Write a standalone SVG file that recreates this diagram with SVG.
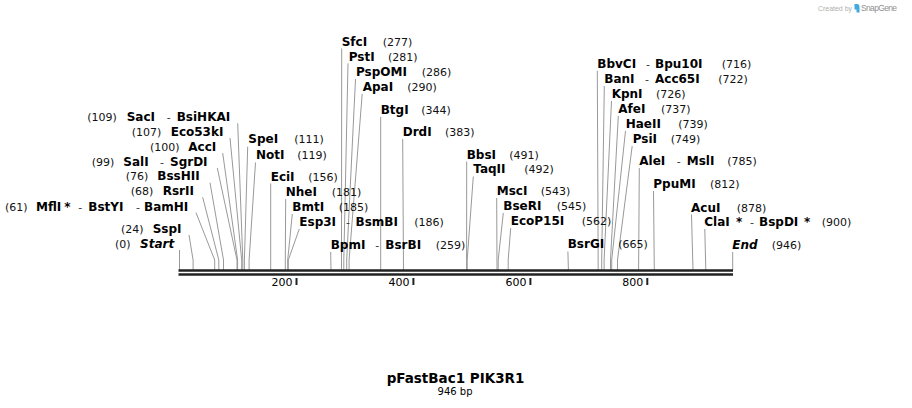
<svg xmlns="http://www.w3.org/2000/svg" width="912" height="408" viewBox="0 0 912 408">
<style>
text{font-family:"DejaVu Sans",Verdana,sans-serif;fill:#000}
.b{font-weight:bold;font-size:12px}
.n{font-size:11px;fill:#111}
.d{font-size:11px;fill:#333}
.i{font-style:italic}
.lead{fill:none;stroke:#999;stroke-width:1}
.bb{stroke:#222;stroke-width:2.4}
.tk{stroke:#222;stroke-width:2}
.tl{font-size:11px}
</style>
<rect width="912" height="408" fill="#fff"/>
<g id="watermark">
<text x="818" y="10.5" style="font-family:'Liberation Sans',Arial,sans-serif;font-size:7px;fill:#b0b0b0" textLength="34">Created by</text>
<path d="M854.5 4 h3 q2 0 2 2.5 v6 h-3 v-3 h-2 z" fill="#3fa9e0"/>
<text x="861" y="11" style="font-family:'Liberation Sans',Arial,sans-serif;font-size:8.5px;fill:#909090" textLength="36">SnapGene</text>
</g>
<g id="connectors">
<polyline class="lead" points="237.7,123.3 242.8,260 242.8,270"/>
<polyline class="lead" points="230,138 241.7,260 241.7,270"/>
<polyline class="lead" points="222.7,153 237.6,260 237.6,270"/>
<polyline class="lead" points="217.3,168 237,260 237,270"/>
<polyline class="lead" points="210,182.7 223.5,260 223.5,270"/>
<polyline class="lead" points="202.7,197.3 218.8,260 218.8,270"/>
<polyline class="lead" points="196,212.7 214.7,260 214.7,270"/>
<polyline class="lead" points="189,235 193.1,260 193.1,270"/>
<polyline class="lead" points="179.5,250 179.5,270"/>
<polyline class="lead" points="247.7,146.7 244.4,260 244.4,270"/>
<polyline class="lead" points="255.5,162.5 249.1,260 249.1,270"/>
<polyline class="lead" points="270.7,183.5 270.7,270"/>
<polyline class="lead" points="285.7,199 285.3,260 285.3,270"/>
<polyline class="lead" points="292.3,214 287.7,260 287.7,270"/>
<polyline class="lead" points="299.3,229 288.3,260 288.3,270"/>
<polyline class="lead" points="330.7,252 331,270"/>
<polyline class="lead" points="341.7,48.5 341.5,270"/>
<polyline class="lead" points="348,63.3 343.8,260 343.8,270"/>
<polyline class="lead" points="355.5,79 346.7,260 346.7,270"/>
<polyline class="lead" points="362.2,94 349.1,260 349.1,270"/>
<polyline class="lead" points="380.7,117 380.7,270"/>
<polyline class="lead" points="402.7,139 403.5,270"/>
<polyline class="lead" points="466.7,161.5 466.6,270"/>
<polyline class="lead" points="473.3,176.5 467.2,260 467.2,270"/>
<polyline class="lead" points="496.7,198 497,270"/>
<polyline class="lead" points="503.3,213 498.2,260 498.2,270"/>
<polyline class="lead" points="510.7,228 508.2,260 508.2,270"/>
<polyline class="lead" points="567.9,251.5 568.4,270"/>
<polyline class="lead" points="597.3,70.7 598.2,270"/>
<polyline class="lead" points="604.3,86 601.7,260 601.7,270"/>
<polyline class="lead" points="611.5,101 604.1,260 604.1,270"/>
<polyline class="lead" points="618.3,116 610.5,260 610.5,270"/>
<polyline class="lead" points="625.5,131 611.7,260 611.7,270"/>
<polyline class="lead" points="632.2,146 617.5,260 617.5,270"/>
<polyline class="lead" points="639.3,168 638.6,270"/>
<polyline class="lead" points="653.5,191 654.3,270"/>
<polyline class="lead" points="691.5,214.5 693,270"/>
<polyline class="lead" points="704.8,229 705.8,270"/>
<polyline class="lead" points="732.7,252 732.7,270"/>
</g>
<g id="backbone">
<line class="bb" x1="178.5" y1="270.5" x2="733" y2="270.5"/>
<line class="bb" x1="178.5" y1="274.5" x2="733" y2="274.5"/>
<line class="tk" x1="296.5" y1="278" x2="296.5" y2="285"/>
<line class="tk" x1="413.4" y1="278" x2="413.4" y2="285"/>
<line class="tk" x1="530.4" y1="278" x2="530.4" y2="285"/>
<line class="tk" x1="647.3" y1="278" x2="647.3" y2="285"/>
<text class="tl" x="292.5" y="286" text-anchor="end">200</text>
<text class="tl" x="409.4" y="286" text-anchor="end">400</text>
<text class="tl" x="526.4" y="286" text-anchor="end">600</text>
<text class="tl" x="643.3" y="286" text-anchor="end">800</text>
</g>
<g id="site-SacI"><text y="121"><tspan class="n" x="87.3">(109)</tspan><tspan class="b" x="126.7">SacI</tspan><tspan class="d" x="166.7">-</tspan><tspan class="b" x="176.7">BsiHKAI</tspan></text></g>
<g id="site-Eco53kI"><text y="136"><tspan class="n" x="131.7">(107)</tspan><tspan class="b" x="170.7">Eco53kI</tspan></text></g>
<g id="site-AccI"><text y="151"><tspan class="n" x="150">(100)</tspan><tspan class="b" x="188.3">AccI</tspan></text></g>
<g id="site-SalI"><text y="165.5"><tspan class="n" x="91.7">(99)</tspan><tspan class="b" x="123.3">SalI</tspan><tspan class="d" x="160">-</tspan><tspan class="b" x="170">SgrDI</tspan></text></g>
<g id="site-BssHII"><text y="180"><tspan class="n" x="125.7">(76)</tspan><tspan class="b" x="157.3">BssHII</tspan></text></g>
<g id="site-RsrII"><text y="195"><tspan class="n" x="130.7">(68)</tspan><tspan class="b" x="162.7">RsrII</tspan></text></g>
<g id="site-MflI"><text y="210.5"><tspan class="n" x="5">(61)</tspan><tspan class="b" x="36">MflI</tspan><tspan class="b" x="64.3">*</tspan><tspan class="d" x="78.3">-</tspan><tspan class="b" x="88.3">BstYI</tspan><tspan class="d" x="136">-</tspan><tspan class="b" x="144">BamHI</tspan></text></g>
<g id="site-SspI"><text y="233"><tspan class="n" x="121">(24)</tspan><tspan class="b" x="152.7">SspI</tspan></text></g>
<g id="site-Start"><text y="248"><tspan class="n" x="115">(0)</tspan><tspan class="b i" x="140">Start</tspan></text></g>
<g id="site-SpeI"><text y="143.3"><tspan class="b" x="248.3">SpeI</tspan><tspan class="n" x="294.3">(111)</tspan></text></g>
<g id="site-NotI"><text y="159.3"><tspan class="b" x="256">NotI</tspan><tspan class="n" x="297.3">(119)</tspan></text></g>
<g id="site-EciI"><text y="180.7"><tspan class="b" x="270.7">EciI</tspan><tspan class="n" x="308.3">(156)</tspan></text></g>
<g id="site-NheI"><text y="196"><tspan class="b" x="285.7">NheI</tspan><tspan class="n" x="331.7">(181)</tspan></text></g>
<g id="site-BmtI"><text y="211"><tspan class="b" x="292.3">BmtI</tspan><tspan class="n" x="338.7">(185)</tspan></text></g>
<g id="site-Esp3I"><text y="226"><tspan class="b" x="299.3">Esp3I</tspan><tspan class="d" x="346">-</tspan><tspan class="b" x="355.5">BsmBI</tspan><tspan class="n" x="414.3">(186)</tspan></text></g>
<g id="site-BpmI"><text y="249"><tspan class="b" x="330.7">BpmI</tspan><tspan class="d" x="375.3">-</tspan><tspan class="b" x="385.3">BsrBI</tspan><tspan class="n" x="435.7">(259)</tspan></text></g>
<g id="site-SfcI"><text y="46"><tspan class="b" x="341.7">SfcI</tspan><tspan class="n" x="382.7">(277)</tspan></text></g>
<g id="site-PstI"><text y="60.7"><tspan class="b" x="348.7">PstI</tspan><tspan class="n" x="388">(281)</tspan></text></g>
<g id="site-PspOMI"><text y="76"><tspan class="b" x="356">PspOMI</tspan><tspan class="n" x="421.7">(286)</tspan></text></g>
<g id="site-ApaI"><text y="91"><tspan class="b" x="362.7">ApaI</tspan><tspan class="n" x="407.3">(290)</tspan></text></g>
<g id="site-BtgI"><text y="114"><tspan class="b" x="380.7">BtgI</tspan><tspan class="n" x="421.3">(344)</tspan></text></g>
<g id="site-DrdI"><text y="136"><tspan class="b" x="402.7">DrdI</tspan><tspan class="n" x="445">(383)</tspan></text></g>
<g id="site-BbsI"><text y="158.5"><tspan class="b" x="466.7">BbsI</tspan><tspan class="n" x="509.3">(491)</tspan></text></g>
<g id="site-TaqII"><text y="173.3"><tspan class="b" x="473.3">TaqII</tspan><tspan class="n" x="524.3">(492)</tspan></text></g>
<g id="site-MscI"><text y="195"><tspan class="b" x="496.7">MscI</tspan><tspan class="n" x="540.7">(543)</tspan></text></g>
<g id="site-BseRI"><text y="210"><tspan class="b" x="503.3">BseRI</tspan><tspan class="n" x="556.7">(545)</tspan></text></g>
<g id="site-EcoP15I"><text y="225"><tspan class="b" x="510.7">EcoP15I</tspan><tspan class="n" x="581.7">(562)</tspan></text></g>
<g id="site-BsrGI"><text y="248.3"><tspan class="b" x="567.7">BsrGI</tspan><tspan class="n" x="618.3">(665)</tspan></text></g>
<g id="site-BbvCI"><text y="68.3"><tspan class="b" x="597.3">BbvCI</tspan><tspan class="d" x="646">-</tspan><tspan class="b" x="655">Bpu10I</tspan><tspan class="n" x="721.7">(716)</tspan></text></g>
<g id="site-BanI"><text y="83.3"><tspan class="b" x="604.3">BanI</tspan><tspan class="d" x="645">-</tspan><tspan class="b" x="655">Acc65I</tspan><tspan class="n" x="718.3">(722)</tspan></text></g>
<g id="site-KpnI"><text y="98.3"><tspan class="b" x="611.7">KpnI</tspan><tspan class="n" x="656">(726)</tspan></text></g>
<g id="site-AfeI"><text y="113.3"><tspan class="b" x="618.3">AfeI</tspan><tspan class="n" x="661">(737)</tspan></text></g>
<g id="site-HaeII"><text y="128.3"><tspan class="b" x="625.7">HaeII</tspan><tspan class="n" x="678.3">(739)</tspan></text></g>
<g id="site-PsiI"><text y="143.3"><tspan class="b" x="632.7">PsiI</tspan><tspan class="n" x="670.7">(749)</tspan></text></g>
<g id="site-AleI"><text y="165"><tspan class="b" x="639.3">AleI</tspan><tspan class="d" x="676.7">-</tspan><tspan class="b" x="686.7">MslI</tspan><tspan class="n" x="727.3">(785)</tspan></text></g>
<g id="site-PpuMI"><text y="188.3"><tspan class="b" x="653.3">PpuMI</tspan><tspan class="n" x="710">(812)</tspan></text></g>
<g id="site-AcuI"><text y="211.7"><tspan class="b" x="691">AcuI</tspan><tspan class="n" x="736.7">(878)</tspan></text></g>
<g id="site-ClaI"><text y="226"><tspan class="b" x="704.3">ClaI</tspan><tspan class="b" x="736">*</tspan><tspan class="d" x="750">-</tspan><tspan class="b" x="759">BspDI</tspan><tspan class="b" x="804">*</tspan><tspan class="n" x="821.7">(900)</tspan></text></g>
<g id="site-End"><text y="249.3"><tspan class="b i" x="732.3">End</tspan><tspan class="n" x="771.7">(946)</tspan></text></g>
<g id="title">
<text x="455.5" y="382.7" text-anchor="middle" style="font-weight:bold;font-size:13.5px">pFastBac1 PIK3R1</text>
<text x="455" y="394.5" text-anchor="middle" style="font-size:10px">946 bp</text>
</g>
</svg>
